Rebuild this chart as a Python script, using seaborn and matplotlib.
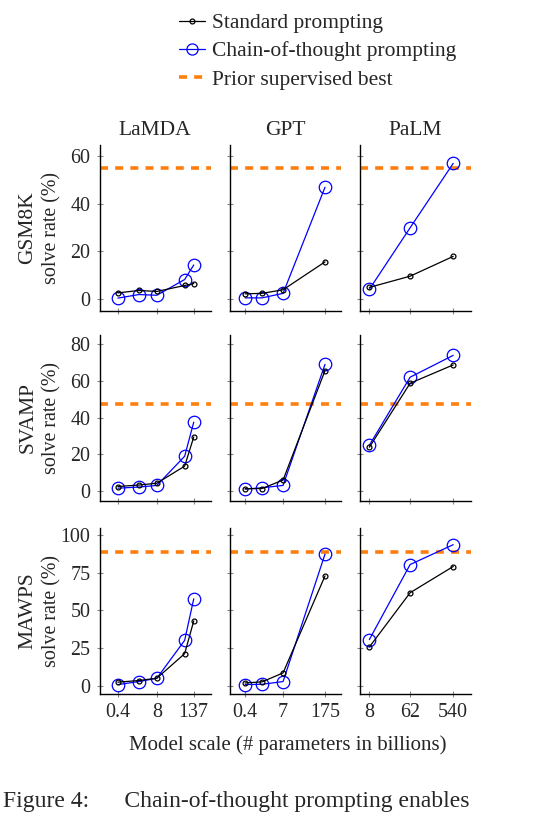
import numpy as np
import pandas as pd
import seaborn as sns
import matplotlib.pyplot as plt
from matplotlib.lines import Line2D

sns.set_style("white")
plt.rcParams["font.family"] = ["Liberation Serif", "DejaVu Serif"]

models = ["LaMDA", "GPT", "PaLM"]
datasets = ["GSM8K", "SVAMP", "MAWPS"]

sizes = {
    "LaMDA": [0.4, 2, 8, 68, 137],
    "GPT": [0.35, 1.3, 6.7, 175],
    "PaLM": [8, 62, 540],
}
xticks = {
    "LaMDA": [0.4, 8, 137],
    "GPT": [0.35, 6.7, 175],
    "PaLM": [8, 62, 540],
}
xticklabels = {
    "LaMDA": ["0.4", "8", "137"],
    "GPT": ["0.4", "7", "175"],
    "PaLM": ["8", "62", "540"],
}

# standard prompting
std_gsm8k = {"LaMDA": [2.6, 3.6, 3.2, 5.7, 6.5], "GPT": [2.2, 2.4, 3.9, 15.6], "PaLM": [4.9, 9.6, 17.9]}
std_svamp = {"LaMDA": [2.5, 3.3, 4.3, 13.6, 29.5], "GPT": [1.3, 1.4, 6.0, 65.7], "PaLM": [23.9, 58.8, 68.8]}
std_mawps = {"LaMDA": [2.7, 3.8, 5.3, 21.5, 43.1], "GPT": [2.2, 2.9, 8.8, 72.8], "PaLM": [25.9, 61.7, 79.0]}

# chain-of-thought prompting
cot_gsm8k = {"LaMDA": [0.4, 1.9, 1.6, 8.2, 14.3], "GPT": [0.5, 0.5, 2.4, 46.9], "PaLM": [4.1, 29.9, 56.9]}
cot_svamp = {"LaMDA": [1.6, 2.2, 3.1, 19.0, 37.6], "GPT": [1.1, 1.8, 3.1, 69.1], "PaLM": [25.0, 62.1, 74.0]}
cot_mawps = {"LaMDA": [1.1, 3.1, 5.3, 30.3, 57.7], "GPT": [1.1, 1.3, 3.1, 87.2], "PaLM": [30.8, 80.3, 93.4]}

prior_best = {"GSM8K": 55, "SVAMP": 47.3, "MAWPS": 88.4}

std_all = {"GSM8K": std_gsm8k, "SVAMP": std_svamp, "MAWPS": std_mawps}
cot_all = {"GSM8K": cot_gsm8k, "SVAMP": cot_svamp, "MAWPS": cot_mawps}

yticks = {"GSM8K": [0, 20, 40, 60], "SVAMP": [0, 20, 40, 60, 80], "MAWPS": [0, 25, 50, 75, 100]}
ylims = {"GSM8K": (-5, 64.6), "SVAMP": (-5.4, 85.1), "MAWPS": (-5.1, 104.4)}
xlims = {"LaMDA": (0.097, 497), "GPT": (0.108, 607), "PaLM": (5.0, 1320)}

W, H = 545, 816
fig = plt.figure(figsize=(W / 100, H / 100), dpi=100)

col_left = [99.5, 230, 360]
row_top = [145, 335, 528]
ax_w, ax_h = 111, 166

for r, ds in enumerate(datasets):
    for c, m in enumerate(models):
        ax = fig.add_axes([col_left[c] / W, 1 - (row_top[r] + ax_h) / H, ax_w / W, ax_h / H])
        ax.axhline(prior_best[ds], color="#ff7f0e", lw=2.6, dashes=(2.2, 2.0), zorder=1)
        df = pd.DataFrame({"size": sizes[m], "std": std_all[ds][m], "cot": cot_all[ds][m]})
        sns.lineplot(data=df, x="size", y="std", ax=ax, color="black", lw=0.9,
                     marker="o", markersize=3.5, markerfacecolor="none",
                     markeredgecolor="black", markeredgewidth=0.9, zorder=3)
        sns.lineplot(data=df, x="size", y="cot", ax=ax, color="#0000ff", lw=0.9,
                     marker="o", markersize=9, markerfacecolor="none",
                     markeredgecolor="#0000ff", markeredgewidth=0.9, zorder=2)
        ax.set_xscale("log")
        ax.set_xlim(*xlims[m])
        ax.set_ylim(*ylims[ds])
        ax.set_yticks(yticks[ds])
        ax.set_xticks(xticks[m])
        ax.xaxis.set_minor_locator(plt.NullLocator())
        ax.set_xlabel("")
        ax.set_ylabel("")
        if r == 2:
            ax.set_xticklabels(xticklabels[m])
        else:
            ax.set_xticklabels([])
        if c != 0:
            ax.set_yticklabels([])
        ax.tick_params(direction="inout", length=5, width=0.8, color="#888888",
                       labelsize=14.4, pad=4, bottom=True, left=True)
        for s in ["top", "right"]:
            ax.spines[s].set_visible(False)
        for s in ["left", "bottom"]:
            ax.spines[s].set_color("black")
            ax.spines[s].set_linewidth(1.0)
        if r == 0:
            ax.set_title(m, fontsize=15.5, pad=7)
    yc = 1 - (row_top[r] + ax_h / 2) / H
    fig.text(28 / W, yc, ds, rotation=90, ha="center", va="center", fontsize=15.5)
    fig.text(52 / W, yc, "solve rate (%)", rotation=90, ha="center", va="center", fontsize=14.4)

fig.text(288 / W, 1 - 745 / H, "Model scale (# parameters in billions)",
         ha="center", va="center", fontsize=15)

handles = [
    Line2D([], [], color="black", lw=0.9, marker="o", markersize=3.5,
           markerfacecolor="none", markeredgewidth=0.9),
    Line2D([], [], color="#0000ff", lw=0.9, marker="o", markersize=8,
           markerfacecolor="none", markeredgewidth=0.9),
    Line2D([], [], color="#ff7f0e", lw=2.6, dashes=(2.2, 2.0)),
]
labels = ["Standard prompting", "Chain-of-thought prompting", "Prior supervised best"]
fig.legend(handles, labels, loc="upper left", bbox_to_anchor=(179 / W, 1 - 13 / H),
           frameon=False, fontsize=15.5, handlelength=1.2, handletextpad=0.35,
           labelspacing=0.38, borderpad=0, borderaxespad=0)

fig.text(3 / W, 1 - 801 / H, "Figure 4:      Chain-of-thought prompting enables",
         ha="left", va="center", fontsize=17)

plt.savefig("out.png", dpi=100)
